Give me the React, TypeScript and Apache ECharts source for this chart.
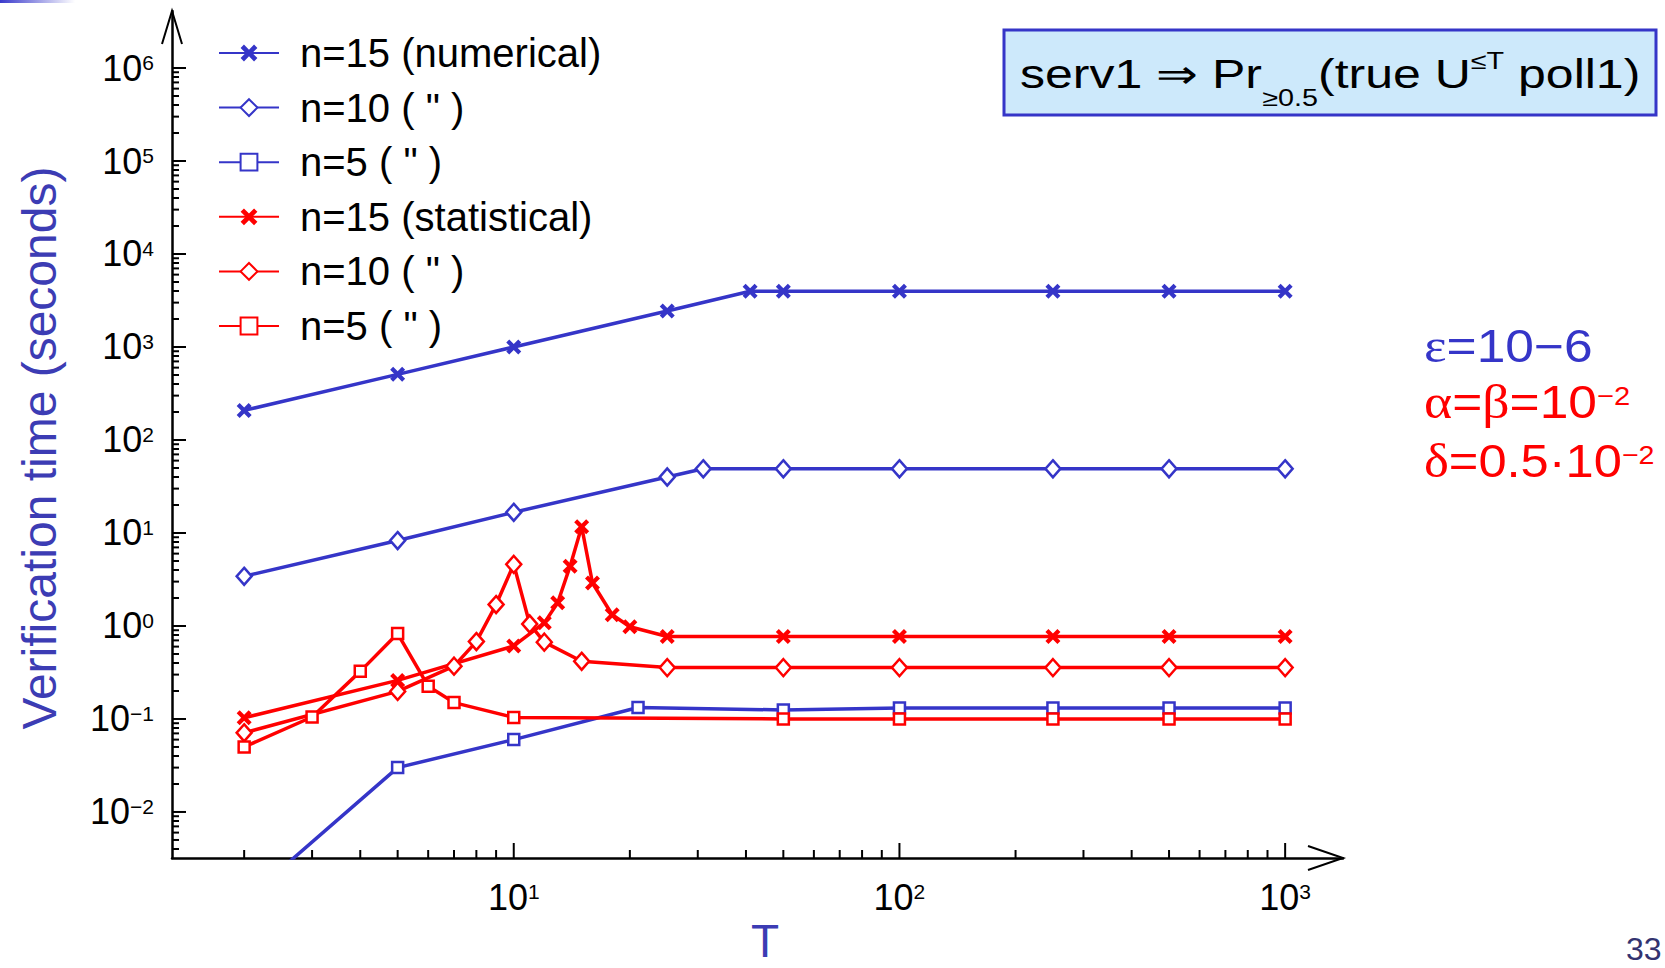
import React, { useEffect, useRef } from 'react';
import * as echarts from 'echarts';

// ---------- data ----------
const T_NUM15 = [2, 5, 10, 25, 41, 50, 100, 250, 500, 1000];
const V_NUM15 = [208, 508, 1000, 2440, 3975, 3975, 3975, 3975, 3975, 3975];
const T_NUM10 = [2, 5, 10, 25, 31, 50, 100, 250, 500, 1000];
const V_NUM10 = [3.42, 8.3, 16.7, 40, 49, 49, 49, 49, 49, 49];
const T_NUM5 = [2, 5, 10, 21, 50, 100, 250, 500, 1000];
const V_NUM5 = [0.0011, 0.03, 0.06, 0.133, 0.125, 0.131, 0.131, 0.131, 0.131];
const T_STAT15 = [2, 5, 10, 12, 13, 14, 15, 16, 18, 20, 25, 50, 100, 250, 500, 1000];
const V_STAT15 = [0.103, 0.26, 0.61, 1.08, 1.78, 4.4, 11.7, 2.9, 1.32, 0.98, 0.77, 0.77, 0.77, 0.77, 0.77, 0.77];
const T_STAT10 = [2, 5, 7, 8, 9, 10, 11, 12, 15, 25, 50, 100, 250, 500, 1000];
const V_STAT10 = [0.071, 0.198, 0.37, 0.68, 1.7, 4.6, 1.05, 0.67, 0.417, 0.357, 0.357, 0.357, 0.357, 0.357, 0.357];
const T_STAT5 = [2, 3, 4, 5, 6, 7, 10, 50, 100, 250, 500, 1000];
const V_STAT5 = [0.05, 0.105, 0.325, 0.83, 0.225, 0.15, 0.104, 0.1, 0.1, 0.1, 0.1, 0.1];

const SERIES_IDS = ['num15', 'num10', 'num5', 'stat15', 'stat10', 'stat5'];
const LEGEND_LABELS = ['n=15 (numerical)', 'n=10 ( " )', 'n=5 ( " )', 'n=15 (statistical)', 'n=10 ( " )', 'n=5 ( " )'];

// axis ticks / labels
const X_DECADES = [1, 2, 3];
const X_EXP_LABELS = ['1', '2', '3'];
const Y_DECADES = [-2, -1, 0, 1, 2, 3, 4, 5, 6];
const Y_EXP_LABELS = ['\u22122', '\u22121', '0', '1', '2', '3', '4', '5', '6'];
const X_MINOR_BASES = [1, 10, 100];
const Y_MINOR_BASES = [0.001, 0.01, 0.1, 1, 10, 100, 1000, 10000, 100000];
const MINOR_MULTS = [2, 3, 4, 5, 6, 7, 8, 9];

const X_MIN = 1.3;
const X_MAX = Math.pow(10, 3.15);
const Y_MIN = Math.pow(10, -2.495);
const Y_MAX = Math.pow(10, 6.613);

// ---------- styles ----------
const BLUE = '#3535c8';
const RED = '#ff0000';
const TITLE_BLUE = '#3c3cb4';
const FONT = '"Liberation Sans", Arial, sans-serif';
const X_PATH = 'path://M0,2 L2,0 L5,3 L8,0 L10,2 L7,5 L10,8 L8,10 L5,7 L2,10 L0,8 L3,5 Z';

const GRID_LEFT = 172;
const GRID_TOP = 11;
const GRID_RIGHT_X = 1343;
const GRID_BOTTOM_Y = 858;

function zip(ts: number[], vs: number[]) {
  return ts.map((t, i) => [t, vs[i]]);
}

function lineSeries(id: string, data: number[][], color: string, kind: 'x' | 'diamond' | 'square') {
  const symbol = kind === 'x' ? X_PATH : kind === 'diamond' ? 'diamond' : 'rect';
  const symbolSize = kind === 'x' ? 15 : kind === 'diamond' ? [15, 17] : 11;
  const itemStyle =
    kind === 'x'
      ? { color, borderWidth: 0 }
      : { color: '#ffffff', borderColor: color, borderWidth: 2.5 };
  return {
    type: 'line',
    name: id,
    data,
    symbol,
    symbolSize,
    showSymbol: true,
    showAllSymbol: true,
    lineStyle: { color, width: 3.5 },
    itemStyle,
    emphasis: { disabled: true },
    silent: true,
    clip: true,
  };
}

function expLabel(decades: number[], labels: string[]) {
  return (v: number) => {
    const l = Math.log10(v);
    const r = Math.round(l);
    if (Math.abs(l - r) > 1e-6) return '';
    const i = decades.indexOf(r);
    if (i < 0) return '';
    return '{b|10}{e|' + labels[i] + '}';
  };
}

const labelRich = {
  b: { fontSize: 36, lineHeight: 40, fontFamily: FONT, color: '#000' },
  e: { fontSize: 21, lineHeight: 30, verticalAlign: 'top', padding: [4, 0, 0, 0], fontFamily: FONT, color: '#000' },
};

function buildTicks() {
  const xt: number[][] = [];
  X_MINOR_BASES.forEach((b) =>
    MINOR_MULTS.forEach((m) => {
      const v = b * m;
      if (v > X_MIN && v < X_MAX) xt.push([v, Y_MIN, 0]);
    })
  );
  X_DECADES.forEach((d) => xt.push([Math.pow(10, d), Y_MIN, 1]));
  const yt: number[][] = [];
  Y_MINOR_BASES.forEach((b) =>
    MINOR_MULTS.forEach((m) => {
      const v = b * m;
      if (v > Y_MIN && v < Y_MAX) yt.push([X_MIN, v, 0]);
    })
  );
  Y_DECADES.forEach((d) => yt.push([X_MIN, Math.pow(10, d), 1]));
  return { xt, yt };
}

export default function App() {
  const ref = useRef<HTMLDivElement>(null);
  useEffect(() => {
    if (!ref.current) return;
    const chart = echarts.init(ref.current, null, { renderer: 'svg' });
    const { xt, yt } = buildTicks();

    const option: any = {
      animation: false,
      backgroundColor: '#ffffff',
      grid: {
        left: GRID_LEFT,
        top: GRID_TOP,
        right: 1665 - GRID_RIGHT_X,
        bottom: 968 - GRID_BOTTOM_Y,
        containLabel: false,
        outerBoundsMode: 'none',
      },
      legend: {
        show: true,
        orient: 'vertical',
        left: 218,
        top: 33,
        padding: 0,
        itemWidth: 60,
        itemHeight: 21,
        itemGap: 14.6,
        selectedMode: false,
        data: SERIES_IDS,
        formatter: (name: string) => LEGEND_LABELS[SERIES_IDS.indexOf(name)],
        textStyle: {
          fontSize: 40,
          fontFamily: FONT,
          color: '#000',
          lineHeight: 40,
          padding: [0, 0, 0, 16],
        },
      },
      xAxis: {
        type: 'log',
        logBase: 10,
        min: X_MIN,
        max: X_MAX,
        axisLine: { show: true, onZero: false, lineStyle: { color: '#000', width: 2.5 } },
        axisTick: { show: false },
        minorTick: { show: false },
        splitLine: { show: false },
        axisLabel: { margin: 19, formatter: expLabel(X_DECADES, X_EXP_LABELS), rich: labelRich, color: '#000' },
      },
      yAxis: {
        type: 'log',
        logBase: 10,
        min: Y_MIN,
        max: Y_MAX,
        axisLine: { show: true, onZero: false, lineStyle: { color: '#000', width: 2.5 } },
        axisTick: { show: false },
        minorTick: { show: false },
        splitLine: { show: false },
        axisLabel: { margin: 18, formatter: expLabel(Y_DECADES, Y_EXP_LABELS), rich: labelRich, color: '#000' },
      },
      series: [
        lineSeries('num15', zip(T_NUM15, V_NUM15), BLUE, 'x'),
        lineSeries('num10', zip(T_NUM10, V_NUM10), BLUE, 'diamond'),
        lineSeries('num5', zip(T_NUM5, V_NUM5), BLUE, 'square'),
        lineSeries('stat15', zip(T_STAT15, V_STAT15), RED, 'x'),
        lineSeries('stat10', zip(T_STAT10, V_STAT10), RED, 'diamond'),
        lineSeries('stat5', zip(T_STAT5, V_STAT5), RED, 'square'),
        {
          type: 'custom',
          name: 'xticks',
          silent: true,
          clip: false,
          z: 4,
          encode: { x: 0, y: 1 },
          data: xt,
          renderItem: (_p: any, api: any) => {
            const pt = api.coord([api.value(0), api.value(1)]);
            const len = api.value(2) ? 15 : 8;
            return {
              type: 'line',
              shape: { x1: pt[0], y1: pt[1], x2: pt[0], y2: pt[1] - len },
              style: { stroke: '#000', lineWidth: 2 },
            };
          },
        },
        {
          type: 'custom',
          name: 'yticks',
          silent: true,
          clip: false,
          z: 4,
          encode: { x: 0, y: 1 },
          data: yt,
          renderItem: (_p: any, api: any) => {
            const pt = api.coord([api.value(0), api.value(1)]);
            const len = api.value(2) ? 14 : 7;
            return {
              type: 'line',
              shape: { x1: pt[0], y1: pt[1], x2: pt[0] + len, y2: pt[1] },
              style: { stroke: '#000', lineWidth: 2 },
            };
          },
        },
      ],
      graphic: [
        {
          type: 'rect',
          shape: { x: 0, y: 0, width: 75, height: 3 },
          style: {
            fill: new echarts.graphic.LinearGradient(0, 0, 1, 0, [
              { offset: 0, color: '#3a3acc' },
              { offset: 1, color: '#ffffff' },
            ]),
          },
          silent: true,
        },
        {
          type: 'polyline',
          shape: { points: [[GRID_LEFT - 10, GRID_TOP + 33], [GRID_LEFT, GRID_TOP], [GRID_LEFT + 10, GRID_TOP + 33]] },
          style: { stroke: '#000', lineWidth: 2, fill: null },
          silent: true,
        },
        {
          type: 'polyline',
          shape: { points: [[GRID_RIGHT_X - 35, GRID_BOTTOM_Y - 12], [GRID_RIGHT_X, GRID_BOTTOM_Y], [GRID_RIGHT_X - 35, GRID_BOTTOM_Y + 12]] },
          style: { stroke: '#000', lineWidth: 2, fill: null },
          silent: true,
        },
        {
          type: 'text',
          x: 39,
          y: 448,
          rotation: Math.PI / 2,
          silent: true,
          style: {
            text: 'Verification time (seconds)',
            fontSize: 48,
            fontFamily: FONT,
            fill: TITLE_BLUE,
            align: 'center',
            verticalAlign: 'middle',
          },
        },
        {
          type: 'text',
          x: 765,
          y: 941,
          silent: true,
          style: { text: 'T', fontSize: 46, fontFamily: FONT, fill: TITLE_BLUE, align: 'center', verticalAlign: 'middle' },
        },
        {
          type: 'rect',
          shape: { x: 1004, y: 30, width: 652, height: 85 },
          style: { fill: '#cde9fb', stroke: BLUE, lineWidth: 3 },
          silent: true,
        },
        {
          type: 'text',
          x: 1330,
          y: 74,
          scaleX: 1.25,
          silent: true,
          style: {
            text: '{m|serv1 \u21D2 Pr}{sub|\u22650.5}{m|(true U}{sup|\u2264T}{m| poll1)}',
            align: 'center',
            verticalAlign: 'middle',
            fill: '#000',
            rich: {
              m: { fontSize: 40, lineHeight: 64, fontFamily: FONT, fill: '#000' },
              sub: { fontSize: 23, lineHeight: 20, verticalAlign: 'top', padding: [45, 0, 0, 0], fontFamily: FONT, fill: '#000' },
              sup: { fontSize: 23, lineHeight: 20, verticalAlign: 'top', padding: [8, 0, 0, 0], fontFamily: FONT, fill: '#000' },
            },
          },
        },
        {
          type: 'text',
          x: 1424,
          y: 346,
          scaleX: 1.12,
          silent: true,
          style: {
            text: '{g|\u03B5}{m|=10\u22126}',
            align: 'left',
            verticalAlign: 'middle',
            fill: BLUE,
            rich: {
              g: { fontSize: 48, lineHeight: 56, fontFamily: '"Liberation Serif", serif', fill: BLUE },
              m: { fontSize: 46, lineHeight: 56, fontFamily: FONT, fill: BLUE },
            },
          },
        },
        {
          type: 'text',
          x: 1424,
          y: 402.4,
          scaleX: 1.12,
          silent: true,
          style: {
            text: '{g|\u03B1}{m|=}{g|\u03B2}{m|=10}{sup|\u22122}',
            align: 'left',
            verticalAlign: 'middle',
            fill: RED,
            rich: {
              g: { fontSize: 48, lineHeight: 56, fontFamily: '"Liberation Serif", serif', fill: RED },
              m: { fontSize: 46, lineHeight: 56, fontFamily: FONT, fill: RED },
              sup: { fontSize: 26, lineHeight: 30, verticalAlign: 'top', padding: [9, 0, 0, 0], fontFamily: FONT, fill: RED },
            },
          },
        },
        {
          type: 'text',
          x: 1424,
          y: 460.8,
          scaleX: 1.1,
          silent: true,
          style: {
            text: '{g|\u03B4}{m|=0.5\u00B710}{sup|\u22122}',
            align: 'left',
            verticalAlign: 'middle',
            fill: RED,
            rich: {
              g: { fontSize: 48, lineHeight: 56, fontFamily: '"Liberation Serif", serif', fill: RED },
              m: { fontSize: 46, lineHeight: 56, fontFamily: FONT, fill: RED },
              sup: { fontSize: 26, lineHeight: 30, verticalAlign: 'top', padding: [9, 0, 0, 0], fontFamily: FONT, fill: RED },
            },
          },
        },
        {
          type: 'text',
          x: 1626,
          y: 949,
          silent: true,
          style: { text: '33', fontSize: 32, fontFamily: FONT, fill: '#333370', align: 'left', verticalAlign: 'middle' },
        },
      ],
    };
    chart.setOption(option);
    return () => chart.dispose();
  }, []);
  return (
    <div
      ref={ref}
      style={{ position: 'fixed', left: 0, top: 0, width: 1665, height: 968, background: '#fff' }}
    />
  );
}
